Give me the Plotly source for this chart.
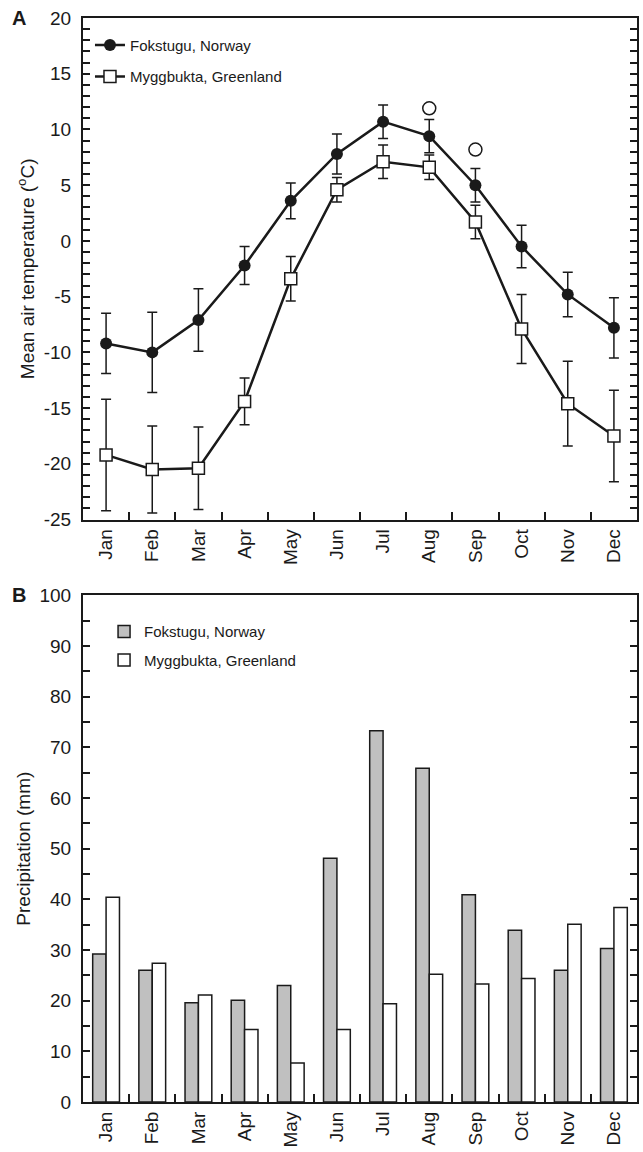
import plotly.graph_objects as go

months = ["Jan", "Feb", "Mar", "Apr", "May", "Jun", "Jul", "Aug", "Sep", "Oct", "Nov", "Dec"]

fok_temp = [-9.2, -10.0, -7.1, -2.2, 3.6, 7.8, 10.7, 9.4, 5.0, -0.5, -4.8, -7.8]
fok_err = [2.7, 3.6, 2.8, 1.7, 1.6, 1.8, 1.5, 1.5, 1.5, 1.9, 2.0, 2.7]
myg_temp = [-19.2, -20.5, -20.4, -14.4, -3.4, 4.6, 7.1, 6.6, 1.7, -7.9, -14.6, -17.5]
myg_err = [5.0, 3.9, 3.7, 2.1, 2.0, 1.1, 1.5, 1.1, 1.5, 3.1, 3.8, 4.1]
sig_months = ["Aug", "Sep"]
sig_marks = [11.9, 8.2]

temp_ticks = [-25, -20, -15, -10, -5, 0, 5, 10, 15, 20]
temp_tick_labels = ["-25", "-20", "-15", "-10", "-5", "0", "5", "10", "15", "20"]

fok_precip = [29.2, 26.0, 19.6, 20.1, 23.0, 48.1, 73.3, 65.9, 40.9, 33.9, 26.0, 30.3]
myg_precip = [40.4, 27.4, 21.1, 14.3, 7.7, 14.3, 19.4, 25.2, 23.3, 24.4, 35.1, 38.4]

FONT = "Liberation Sans, Arial, Helvetica, sans-serif"
BLACK = "#1a1a1a"

fig = go.Figure()

fig.add_trace(go.Scatter(
    x=months, y=fok_temp, name="Fokstugu, Norway", mode="lines+markers",
    line=dict(color=BLACK, width=2.5),
    marker=dict(symbol="circle", size=12, color=BLACK),
    error_y=dict(type="data", array=fok_err, visible=True, color=BLACK, thickness=1.5, width=5),
    xaxis="x", yaxis="y", legend="legend", legendgroup="a",
))
fig.add_trace(go.Scatter(
    x=months, y=myg_temp, name="Myggbukta, Greenland", mode="lines+markers",
    line=dict(color=BLACK, width=2.5),
    marker=dict(symbol="square", size=12, color="white", line=dict(color=BLACK, width=1.5)),
    error_y=dict(type="data", array=myg_err, visible=True, color=BLACK, thickness=1.5, width=5),
    xaxis="x", yaxis="y", legend="legend", legendgroup="b",
))
fig.add_trace(go.Scatter(
    x=sig_months, y=sig_marks, mode="markers", showlegend=False,
    marker=dict(symbol="circle-open", size=13, color=BLACK, line=dict(width=1.5)),
    xaxis="x", yaxis="y",
))

fig.add_trace(go.Bar(
    x=months, y=fok_precip, name="Fokstugu, Norway",
    marker=dict(color="#c0c0c0", line=dict(color=BLACK, width=1.5)),
    xaxis="x2", yaxis="y2", legend="legend2", legendgroup="c",
))
fig.add_trace(go.Bar(
    x=months, y=myg_precip, name="Myggbukta, Greenland",
    marker=dict(color="white", line=dict(color=BLACK, width=1.5)),
    xaxis="x2", yaxis="y2", legend="legend2", legendgroup="d",
))

xcommon = dict(
    type="category", showline=True, linecolor=BLACK, linewidth=2, mirror=True,
    ticks="inside", tickson="boundaries", ticklen=8, tickwidth=1.5, tickcolor=BLACK,
    tickangle=-90, tickfont=dict(size=19, color=BLACK, family=FONT),
    showgrid=False, zeroline=False, range=[-0.5, 11.5],
)

fig.update_layout(
    width=643, height=1152,
    margin=dict(l=83, r=4, t=18, b=47),
    paper_bgcolor="white", plot_bgcolor="white",
    font=dict(family=FONT, color=BLACK),
    barmode="group", bargap=0.42, bargroupgap=0,
    xaxis=dict(domain=[0, 1], anchor="y", **xcommon),
    yaxis=dict(
        domain=[0.5373, 1], anchor="x", range=[-25, 20],
        tickmode="array", tickvals=temp_ticks, ticktext=temp_tick_labels,
        showline=True, linecolor=BLACK, linewidth=2, mirror="ticks",
        ticks="inside", ticklen=7, tickwidth=1.5, tickcolor=BLACK,
        minor=dict(dtick=1, ticks="inside", ticklen=7, tickwidth=1.5, tickcolor=BLACK),
        tickfont=dict(size=19, color=BLACK, family=FONT),
        showgrid=False, zeroline=False, ticklabelstandoff=6,
        title=dict(text="Mean air temperature (<sup>o</sup>C)", font=dict(size=19, color=BLACK), standoff=4),
    ),
    xaxis2=dict(domain=[0, 1], anchor="y2", **xcommon),
    yaxis2=dict(
        domain=[0, 0.4673], anchor="x2", range=[0, 100], dtick=10,
        showline=True, linecolor=BLACK, linewidth=2, mirror="ticks",
        ticks="inside", ticklen=7, tickwidth=1.5, tickcolor=BLACK,
        minor=dict(dtick=5, ticks="inside", ticklen=7, tickwidth=1.5, tickcolor=BLACK),
        tickfont=dict(size=19, color=BLACK, family=FONT),
        showgrid=False, zeroline=False, ticklabelstandoff=6,
        title=dict(text="Precipitation (mm)", font=dict(size=19, color=BLACK), standoff=4),
    ),
    legend=dict(
        x=0.0126, y=0.99, xanchor="left", yanchor="top", bgcolor="rgba(0,0,0,0)",
        font=dict(size=15, color=BLACK, family=FONT), tracegroupgap=9,
    ),
    legend2=dict(
        x=0.038, y=0.449, xanchor="left", yanchor="top", bgcolor="rgba(0,0,0,0)",
        font=dict(size=15, color=BLACK, family=FONT), tracegroupgap=6,
    ),
    annotations=[
        dict(text="<b>A</b>", x=-0.115, y=1.0, xref="paper", yref="paper",
             xanchor="center", yanchor="middle", showarrow=False, font=dict(size=20, color=BLACK)),
        dict(text="<b>B</b>", x=-0.115, y=0.4673, xref="paper", yref="paper",
             xanchor="center", yanchor="middle", showarrow=False, font=dict(size=20, color=BLACK)),
    ],
)

fig.write_html("out.html", config={"displayModeBar": False},
               post_script="document.body.style.margin='0';")
